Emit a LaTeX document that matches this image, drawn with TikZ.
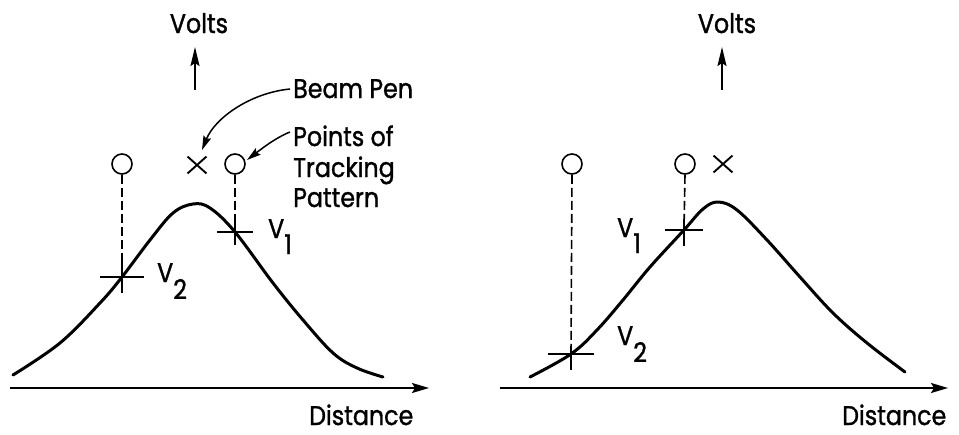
\documentclass[tikz,border=0pt]{standalone}
\usepackage{fontspec}
\setmainfont{Poppins}
\newfontfamily\lblfont{Poppins}[FakeStretch=0.88,FakeBold=1.2]
\usetikzlibrary{arrows.meta,shapes.misc}
\begin{document}
\begin{tikzpicture}[x=1pt,y=-1pt,
  lbl/.style={inner sep=0pt,font=\lblfont\fontsize{27}{31}\selectfont},
  curve/.style={line width=3pt,line cap=round,line join=round},
  axis/.style={line width=2pt,-{Stealth[length=17pt,width=10pt,inset=3pt]}},
  uparr/.style={line width=2pt,-{Stealth[length=19pt,width=9pt,inset=3pt]}},
  callout/.style={line width=1.5pt,-{Stealth[length=14pt,width=8pt,inset=2pt]}},
  pt/.style={circle,draw,line width=1.6pt,minimum size=20pt,inner sep=0pt},
  pen/.style={cross out,draw,line width=1.9pt,minimum width=17pt,minimum height=15pt,inner sep=0pt},
  guide/.style={line width=1.6pt,dash pattern=on 9pt off 4pt},
  tick/.style={line width=1.6pt}]
\useasboundingbox (0,0) rectangle (959,434);

% ---------------- left panel ----------------
\node[lbl,anchor=base] (voltsL) at (199,33) {Volts};
\coordinate (upLa) at (195,90);
\coordinate (upLb) at (195,47);
\draw[uparr] (upLa) -- (upLb);

\coordinate (axLa) at (10,388);
\coordinate (axLb) at (429,388);
\draw[axis] (axLa) -- (axLb);
\node[lbl,anchor=base west] (distL) at (309,425) {Distance};

\draw[curve] plot[smooth,tension=0.6] coordinates {(13,375) (60,343) (100,303) (122,277) (150,240) (173,213) (193,204) (210,208) (235,232) (273,283) (303,320) (333,353) (357,368) (383,377)};

\node[pt] (cL1) at (122,164) {};
\node[pt] (cL2) at (235,164) {};
\node[pen] (penL) at (197,165) {};

\coordinate (vL2) at (122,277);
\coordinate (vL1) at (235,232);
\draw[guide] (cL1.south) -- (vL2);
\draw[guide] (cL2.south) -- (vL1);
\draw[tick] (vL2) ++(-22,0) -- ++(44,0);
\draw[tick] (vL2) ++(0,-15) -- ++(0,31);
\draw[tick] (vL1) ++(-18,0) -- ++(36,0);
\draw[tick] (vL1) ++(0,-11) -- ++(0,24);
\node[lbl,anchor=base west] (lV1) at (268,238) {V\raisebox{-16pt}{1}};
\node[lbl,anchor=base west] (lV2) at (157,282) {V\raisebox{-17pt}{2}};

\node[lbl,anchor=base west] (beam) at (293,98) {Beam Pen};
\node[lbl,anchor=base west] (track1) at (293,146) {Points of};
\node[lbl,anchor=base west] (track2) at (293,177) {Tracking};
\node[lbl,anchor=base west] (track3) at (293,207) {Pattern};
\coordinate (beamS) at (290,89);
\coordinate (penTip) at (202,150);
\draw[callout] (beamS) .. controls (250,93) and (215,118) .. (penTip);
\coordinate (trackS) at (290,132);
\coordinate (trackTip) at (247,160);
\draw[callout] (trackS) .. controls (275,138) and (260,150) .. (trackTip);

% ---------------- right panel ----------------
\node[lbl,anchor=base] (voltsR) at (727,33) {Volts};
\coordinate (upRa) at (722,90);
\coordinate (upRb) at (722,47);
\draw[uparr] (upRa) -- (upRb);

\coordinate (axRa) at (500,388);
\coordinate (axRb) at (948,388);
\draw[axis] (axRa) -- (axRb);
\node[lbl,anchor=base west] (distR) at (842,425) {Distance};

\draw[curve] plot[smooth,tension=0.6] coordinates {(530,377) (571,354) (597,330) (623,300) (650,267) (684,230) (703,209) (718,202) (737,210) (767,240) (800,277) (833,313) (867,343) (905,372)};

\node[pt] (cR1) at (572,164) {};
\node[pt] (cR2) at (685,164) {};
\node[pen] (penR) at (723,164) {};

\coordinate (vR2) at (571,354);
\coordinate (vR1) at (684,230);
\draw[guide] (cR1.south) -- (vR2);
\draw[guide] (cR2.south) -- (vR1);
\draw[tick] (vR2) ++(-23,0) -- ++(46,0);
\draw[tick] (vR2) ++(0,-8) -- ++(0,24);
\draw[tick] (vR1) ++(-19,0) -- ++(38,0);
\draw[tick] (vR1) ++(0,-11) -- ++(0,27);
\node[lbl,anchor=base west] (rV1) at (617,237) {V\raisebox{-16pt}{1}};
\node[lbl,anchor=base west] (rV2) at (617,345) {V\raisebox{-17pt}{2}};
\end{tikzpicture}
\end{document}
